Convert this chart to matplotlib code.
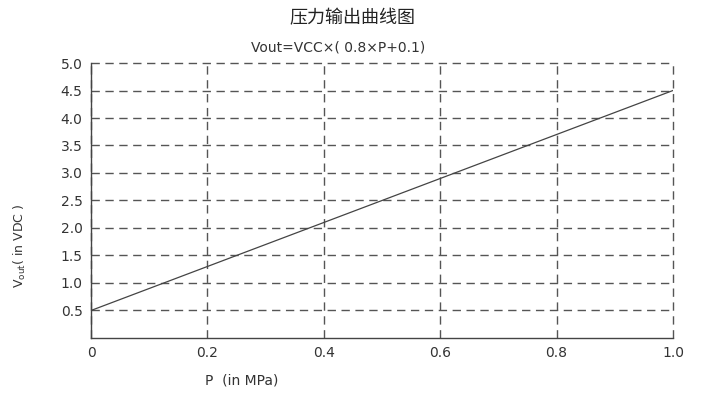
import matplotlib
matplotlib.use('Agg')
import matplotlib.pyplot as plt

plt.rcParams['font.family'] = ['DejaVu Sans', 'Noto Sans CJK SC']

# data
p_mpa = [0.0, 1.0]
vout = [0.5, 4.5]
x_ticks = [0, 0.2, 0.4, 0.6, 0.8, 1.0]
x_labels = ['0', '0.2', '0.4', '0.6', '0.8', '1.0']
y_ticks = [0.5, 1.0, 1.5, 2.0, 2.5, 3.0, 3.5, 4.0, 4.5, 5.0]
y_labels = ['0.5', '1.0', '1.5', '2.0', '2.5', '3.0', '3.5', '4.0', '4.5', '5.0']

fig = plt.figure(figsize=(7.2, 3.96), dpi=100)
ax = fig.add_axes([0.1264, 0.1465, 0.8083, 0.6944])

ax.plot(p_mpa, vout, color='#444444', linewidth=0.9)
ax.set_xlim(0, 1.0)
ax.set_ylim(0, 5.0)
ax.set_xticks(x_ticks)
ax.set_xticklabels(x_labels)
ax.set_yticks(y_ticks)
ax.set_yticklabels(y_labels)
ax.tick_params(length=0, labelsize=10, labelcolor='#333333', pad=6)

ax.grid(True, color='#555555', linestyle=(0, (6, 4)), linewidth=1.0)
# keep the edge gridlines (x=1.0, y=5.0) from being clipped
for gl in ax.get_xgridlines() + ax.get_ygridlines():
    gl.set_clip_on(False)
for s in ['top', 'right']:
    ax.spines[s].set_visible(False)
for s in ['left', 'bottom']:
    ax.spines[s].set_color('#444444')
    ax.spines[s].set_linewidth(1.0)

fig.text(0.49, 0.955, '压力输出曲线图', ha='center', va='center',
         fontsize=13, color='#222222', family=['Noto Sans CJK SC', 'DejaVu Sans'])
fig.text(0.47, 0.88, 'Vout=VCC×( 0.8×P+0.1)', ha='center', va='center',
         fontsize=10, color='#333333', family=['DejaVu Sans', 'Noto Sans CJK SC'])
fig.text(0.028, 0.38, r'V$_{\rm out}$( in VDC )', ha='center', va='center',
         rotation=90, fontsize=9, color='#333333')
fig.text(0.285, 0.04, 'P  (in MPa)', ha='left', va='center',
         fontsize=10, color='#333333')

fig.savefig('out.png', dpi=100)
